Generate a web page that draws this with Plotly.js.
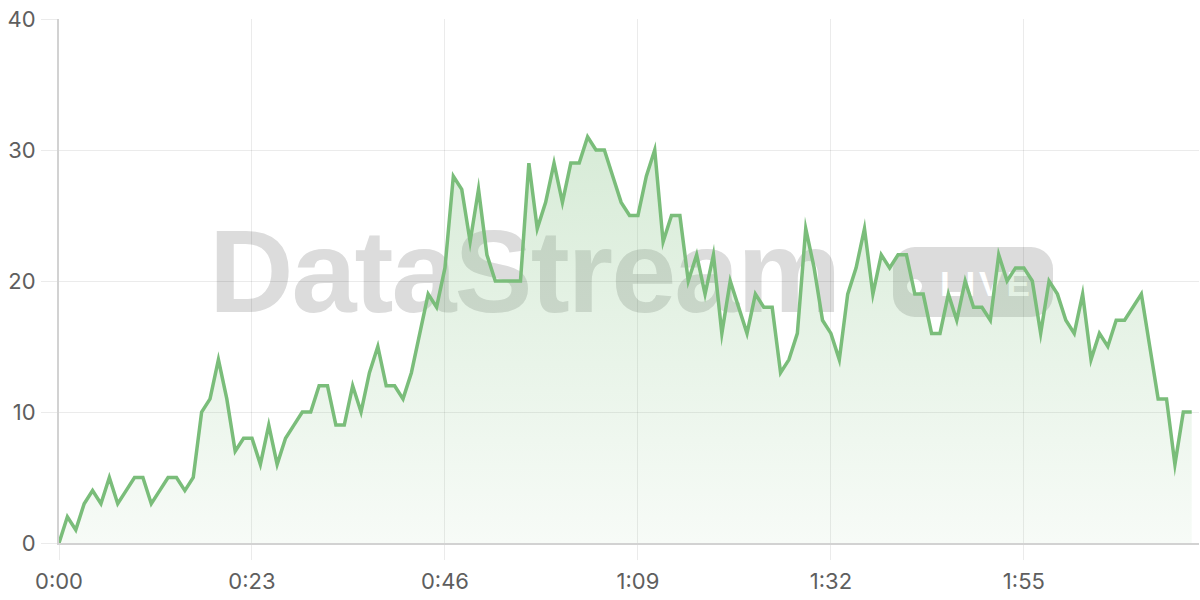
<!DOCTYPE html>
<html>
<head>
<meta charset="utf-8">
<script src="https://cdn.plot.ly/plotly-3.0.1.min.js"></script>
<style>
  html, body { margin: 0; padding: 0; background: #ffffff; }
  #wrap { position: relative; width: 1200px; height: 600px; overflow: hidden; }
  #wm { position: absolute; left: 0; top: 0; width: 1200px; height: 600px; z-index: 0; }
  #wmText { position: absolute; left: 209px; top: 213px; font-family: "Liberation Sans", Arial, sans-serif;
            font-weight: bold; font-size: 117px; line-height: 1; color: #dcdcdc; white-space: nowrap; letter-spacing: -2px; }
  #wmPill { position: absolute; left: 893px; top: 247px; width: 160px; height: 70px; border-radius: 22px; background: #dcdcdc; }
  #wmDot { position: absolute; left: 907px; top: 279px; width: 15px; height: 15px; border-radius: 50%; background: #ffffff; }
  #wmLive { position: absolute; left: 940px; top: 266px; font-family: "Liberation Sans", Arial, sans-serif; font-weight: 600;
            font-size: 35px; line-height: 1; color: #ffffff; letter-spacing: 4px; white-space: nowrap; }
  #chart { position: absolute; left: 0; top: 0; width: 1200px; height: 600px; z-index: 1; }
  #chart .scatterlayer .js-line { stroke-linejoin: miter; stroke-miterlimit: 10; }
</style>
</head>
<body>
<div id="wrap">
  <div id="wm">
    <div id="wmText">DataStream</div>
    <div id="wmPill"></div>
    <div id="wmDot"></div>
    <div id="wmLive">LIVE</div>
  </div>
  <div id="chart"></div>
</div>
<script>
// values, one per second starting at 0:00
const values = [
  0, 2, 1, 3, 4, 3, 5, 3, 4, 5,
  5, 3, 4, 5, 5, 4, 5, 10, 11, 14,
  11, 7, 8, 8, 6, 9, 6, 8, 9, 10,
  10, 12, 12, 9, 9, 12, 10, 13, 15, 12,
  12, 11, 13, 16, 19, 18, 21, 28, 27, 23,
  27, 22, 20, 20, 20, 20, 29, 24, 26, 29,
  26, 29, 29, 31, 30, 30, 28, 26, 25, 25,
  28, 30, 23, 25, 25, 20, 22, 19, 22, 16,
  20, 18, 16, 19, 18, 18, 13, 14, 16, 24,
  21, 17, 16, 14, 19, 21, 24, 19, 22, 21,
  22, 22, 19, 19, 16, 16, 19, 17, 20, 18,
  18, 17, 22, 20, 21, 21, 20, 16, 20, 19,
  17, 16, 19, 14, 16, 15, 17, 17, 18, 19,
  15, 11, 11, 6, 10, 10
];
const startSeconds = 0;
const stepSeconds = 1;
const xTickVals = [0, 23, 46, 69, 92, 115];
const xTickText = ['0:00', '0:23', '0:46', '1:09', '1:32', '1:55'];
const yTickVals = [0, 10, 20, 30, 40];

const gridCol = 'rgba(0,0,0,0.08)';
const axisCol = '#d2d2d2';
const tickFont = { family: 'Inter, "Open Sans", sans-serif', size: 22, color: '#5e5e5e' };

const trace = {
  type: 'scatter',
  mode: 'lines',
  x0: startSeconds,
  dx: stepSeconds,
  y: values,
  line: { color: '#7abd7a', width: 3.5, shape: 'linear' },
  fill: 'tozeroy',
  fillcolor: 'rgba(122,189,122,0.15)',
  fillgradient: {
    type: 'vertical',
    start: 0,
    stop: 31,
    colorscale: [[0, 'rgba(122,189,122,0.06)'], [1, 'rgba(122,189,122,0.30)']]
  },
  hoverinfo: 'skip'
};

const layout = {
  width: 1200,
  height: 600,
  margin: { l: 59, r: 1, t: 19, b: 57 },
  paper_bgcolor: 'rgba(0,0,0,0)',
  plot_bgcolor: 'rgba(0,0,0,0)',
  showlegend: false,
  xaxis: {
    range: [0, 135.87],
    tickmode: 'array',
    tickvals: xTickVals,
    ticktext: xTickText,
    showgrid: true,
    gridcolor: gridCol,
    gridwidth: 1,
    zeroline: false,
    showline: true,
    linecolor: axisCol,
    linewidth: 2,
    ticks: 'outside',
    ticklen: 15,
    tickwidth: 1,
    tickcolor: gridCol,
    ticklabelstandoff: 3,
    tickfont: tickFont,
    fixedrange: true
  },
  yaxis: {
    range: [0, 40],
    tickmode: 'array',
    tickvals: yTickVals,
    showgrid: true,
    gridcolor: gridCol,
    gridwidth: 1,
    zeroline: false,
    showline: true,
    linecolor: axisCol,
    linewidth: 2,
    ticks: 'outside',
    ticklen: 16,
    tickwidth: 1,
    tickcolor: gridCol,
    ticklabelstandoff: 1,
    tickfont: tickFont,
    fixedrange: true
  }
};

Plotly.newPlot('chart', [trace], layout, { displayModeBar: false, staticPlot: true });
</script>
</body>
</html>
